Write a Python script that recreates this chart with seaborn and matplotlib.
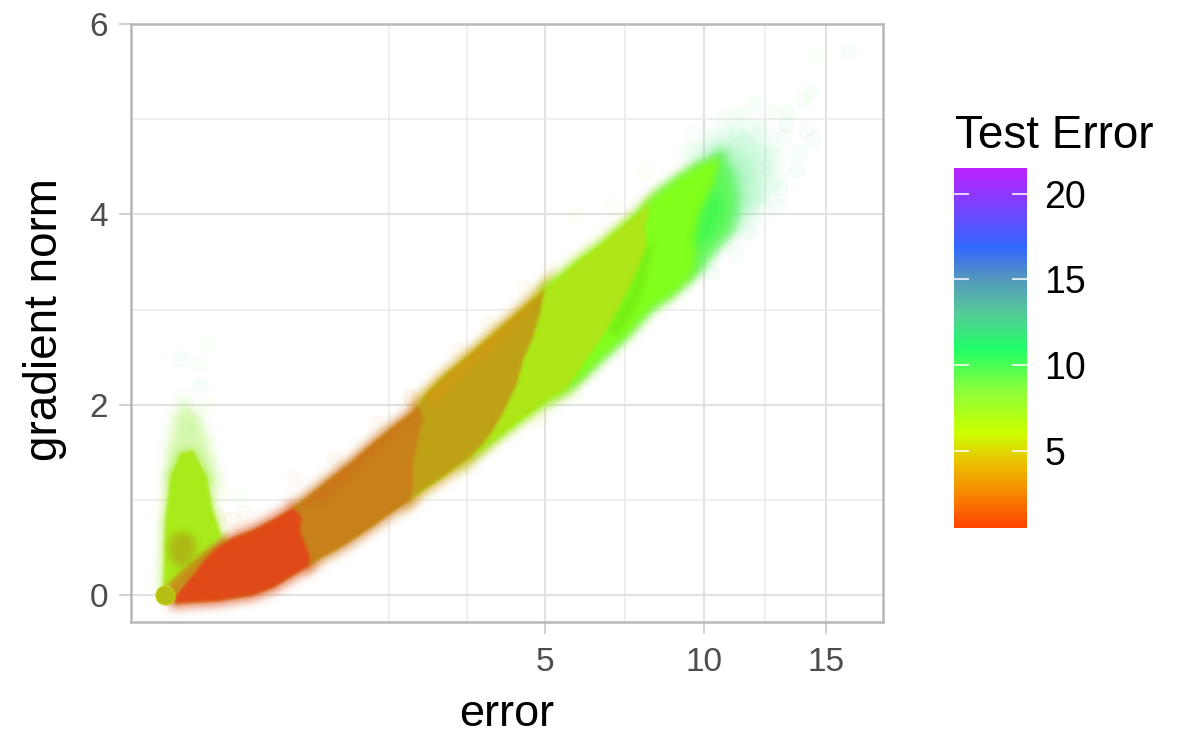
import numpy as np
import pandas as pd
import matplotlib
matplotlib.use("Agg")
import matplotlib.pyplot as plt
from matplotlib.colors import LinearSegmentedColormap, Normalize, to_rgb
import seaborn as sns

sns.set_theme(style="white")
plt.rcParams['font.family'] = ['Liberation Sans', 'DejaVu Sans']

# ---------- data ----------
x_major = [5, 10, 15]
x_minor = [1.76, 3.17, 7.30, 12.38]
y_major = [0, 2, 4, 6]
y_minor = [1, 3, 5]
cbar_ticks = [5, 10, 15, 20]

# upper and lower edge of the dense cloud (error, gradient norm)
upper_x = [.0071, .0143, .0337, .0586, .1047, .1738, .2847, .4227, .588, .780, 1.0, 1.247, 1.521,
           1.822, 2.151, 2.36, 2.694, 3.173, 3.669, 4.201, 4.871, 5.399, 5.955, 6.538, 7.148,
           7.785, 8.449, 9.141, 9.859, 10.605]
upper_y = [-.02, .07, .21, .35, .50, .60, .68, .79, .91, 1.07, 1.24, 1.40, 1.59,
           1.76, 1.92, 2.10, 2.29, 2.50, 2.71, 2.92, 3.17, 3.34, 3.52, 3.67, 3.85,
           4.02, 4.22, 4.38, 4.51, 4.59]
lower_x = [.0071, .0157, .1047, .2847, .4227, .588, .822, 1.120, 1.478, 1.775, 2.151, 2.451, 2.694,
           3.236, 3.827, 4.443, 5.132, 5.870, 6.538, 7.367, 8.113, 8.895, 9.859, 10.72, 11.38]
lower_y = [-.09, -.08, -.06, 0, .08, .21, .37, .52, .71, .86, 1.03, 1.15, 1.24,
           1.45, 1.66, 1.86, 2.07, 2.26, 2.49, 2.75, 3.02, 3.18, 3.45, 3.76, 3.97]

# where one test-error group meets the next, bottom to top
red_end_x = [.74, .75, .65, .67, .588]
red_end_y = [.31, .40, .68, .82, .91]
orange_end_x = [2.10, 2.151, 2.151, 2.27, 2.33, 2.237]
orange_end_y = [1.00, 1.13, 1.39, 1.73, 1.87, 1.99]
gold_end_x = [3.236, 3.514, 3.736, 3.965, 4.297, 4.443, 4.693, 4.871, 5.0]
gold_end_y = [1.45, 1.59, 1.73, 1.91, 2.22, 2.47, 2.71, 2.96, 3.23]
lime_end_x = [5.40, 5.59, 6.748, 7.054, 7.367, 7.687, 8.014, 7.95, 8.113]
lime_end_y = [2.13, 2.18, 2.78, 2.96, 3.17, 3.38, 3.65, 3.86, 4.11]
green_end_x = [9.571, 9.749, 10.05, 10.34, 10.605]
green_end_y = [3.39, 3.71, 4.03, 4.34, 4.59]
tail_end_x = [11.0, 11.20, 11.05, 10.605]
tail_end_y = [3.85, 4.15, 4.40, 4.59]

# smaller patches inside the cloud and the thin end of it
strip_low_x = [2.694, 3.236, 3.827, 4.20, 3.60, 3.10]
strip_low_y = [1.24, 1.45, 1.66, 1.74, 1.60, 1.38]
strip_top_x = [2.36, 3.173, 3.669, 4.201, 4.871, 4.60, 3.70, 3.10, 2.50]
strip_top_y = [2.10, 2.50, 2.71, 2.92, 3.17, 3.00, 2.55, 2.32, 1.95]
orange_top_x = [.60, 1.0, 1.521, 2.151, 2.30, 2.0, 1.4, .9]
orange_top_y = [.91, 1.24, 1.59, 1.92, 1.95, 1.80, 1.40, 1.00]
edge_x = [6.748, 7.367, 8.014, 8.30, 7.80, 7.10]
edge_y = [2.78, 3.13, 3.65, 3.73, 3.10, 2.73]
spring_x = [9.60, 10.30, 10.80, 10.50, 9.90]
spring_y = [3.65, 3.75, 4.05, 4.30, 4.05]
thin_x = [11.38, 12.38, 12.80, 12.38, 11.18, 9.859, 9.50]
thin_y = [3.90, 4.14, 4.46, 4.83, 4.93, 4.77, 4.51]
thinner_x = [10.72, 11.60, 12.00, 11.70, 10.80, 10.00]
thinner_y = [3.72, 3.98, 4.35, 4.62, 4.72, 4.55]

# the spike on the left
spike_x = [.0001, .0004, .0025, .012, .034, .070, .090, .124, .043, .0045]
spike_y = [.05, .76, 1.24, 1.49, 1.52, 1.24, .89, .61, .34, .13]
spike_soft_x = [.0025, .006, .016, .034, .064, .087]
spike_soft_y = [1.24, 1.63, 1.94, 1.89, 1.52, 1.20]
blob_x = [.0014, .0037, .014, .032, .043, .032, .014, .0037]
blob_y = [.50, .63, .66, .63, .50, .37, .28, .35]
base_x = [.0014, .001, .012, .059, .146, .146, .016, .007]
base_y = [-.08, .10, .24, .45, .63, .52, .08, -.09]

# the pile of identical points at the origin
origin_error = [.0004]
origin_norm = [0.0]

# single faint points
faint_error = [.070, .013, .048, .053, .016, .073, .019, .022, .009, .038, .022, .064, .012, .043,
               .080, .0045, .006, .097, .124, .210, .606, .237, .109, .169, .226,
               1.024, 1.579, 2.133, 5.813, 6.931, 2.10, 2.969, 4.492, 3.624, 4.871, 5.870, 3.236,
               16.07, 14.65, 14.34, 13.99, 14.43, 14.12, 13.86, 13.77, 12.92, 11.70, 11.22, 10.30,
               13.30, 13.30, 12.71, 11.97, 11.46, 10.83, 9.50, 7.95, 13.01, 12.71, 13.13, 12.18,
               12.47, 11.90, 12.30, 11.26, 11.66, 12.18, 12.71]
faint_norm = [2.62, 2.48, 2.43, 2.20, 2.08, 1.99, 1.99, 1.86, 1.82, 1.80, 1.73, 1.61, 1.63, 1.70,
              1.42, 1.49, 1.24, 1.23, 1.07, 1.05, 1.22, .86, .82, .79, .70,
              1.44, 1.80, 2.07, 3.99, 4.09, 2.08, 2.57, 3.22, 2.85, 1.84, 2.08, 1.34,
              5.72, 5.67, 5.28, 5.20, 4.78, 4.89, 4.65, 4.47, 4.08, 3.81, 3.58, 3.39,
              5.07, 4.94, 5.08, 5.17, 5.05, 5.04, 4.68, 4.44, 4.28, 4.34, 4.81, 4.66,
              4.49, 4.13, 4.19, 4.84, 4.78, 4.91, 4.63]
faint_test = [9, 11, 9, 11, 9, 7, 9, 9, 9, 9, 9, 8, 8, 9,
              8, 8, 8, 8, 7, 9, 3, 2, 4, 2, 2,
              3, 3, 3, 7, 8, 3, 4, 4, 4, 6, 7, 5,
              13, 9, 10, 10, 13, 13, 12, 12, 12, 12, 12, 11,
              10, 11, 10, 10, 10, 9, 9, 8, 12, 12, 12, 11,
              12, 12, 12, 11, 11, 11, 12]

# colour scale of the legend: value, colour
scale_values = [0.5, 2.5, 4.5, 6.0, 8.5, 10.9, 13.0, 15.0, 16.95, 21.5]
scale_colors = ['#FF4500', '#F88800', '#E8C800', '#CCFF00', '#8CFF3C', '#22FF66',
                '#55CC99', '#5599BB', '#3366FF', '#BB22FF']

# ---------- styles ----------
GRID = '#E2E2E2'
GRID_MINOR = '#EBEBEB'
SPINE = '#B8B8B8'
TICK = '#4D4D4D'


def sroot(v):
    v = np.asarray(v, dtype=float)
    return np.sign(v) * np.sqrt(np.abs(v))


def sinv(v):
    v = np.asarray(v, dtype=float)
    return np.sign(v) * v ** 2


def box(a, r, axis):
    a = np.moveaxis(a, axis, 0)
    n = 2 * r + 1
    p = np.pad(a, [(r + 1, r), (0, 0)])
    c = np.cumsum(p, axis=0)
    out = (c[n:] - c[:-n]) / n
    return np.moveaxis(out, 0, axis)


class SoftEdge:
    """Agg filter: the shape's coverage is blurred, so its rim fades like a cloud of points."""

    def __init__(self, rgb, sigma, alpha=1.0):
        self.rgb, self.r, self.alpha = rgb, max(1, int(round(sigma * .85))), alpha

    def __call__(self, im, dpi):
        pad = 3 * self.r + 2
        a = np.pad(im[:, :, 3], pad)
        for _ in range(3):
            a = box(box(a, self.r, 0), self.r, 1)
        out = np.zeros(a.shape + (4,))
        out[..., :3] = self.rgb
        out[..., 3] = np.clip(a * self.alpha, 0, 1)
        return out, -pad, -pad


cmap = LinearSegmentedColormap.from_list(
    'test_error',
    [((v - scale_values[0]) / (scale_values[-1] - scale_values[0]), c)
     for v, c in zip(scale_values, scale_colors)], N=512)
norm = Normalize(scale_values[0], scale_values[-1])

fig = plt.figure(figsize=(12, 7.5), dpi=100)
ax = fig.add_axes([131 / 1200, 1 - 622 / 750, (883 - 131) / 1200, (622 - 24) / 750])
ax.set_xscale('function', functions=(sroot, sinv))
ax.set_xlim(-0.0316, 17.70)
ax.set_ylim(-0.283, 6.0)

ax.set_xticks(x_major)
ax.set_xticks(x_minor, minor=True)
ax.set_yticks(y_major)
ax.set_yticks(y_minor, minor=True)
ax.grid(True, which='major', color=GRID, lw=1.5, zorder=0)
ax.grid(True, which='minor', color=GRID_MINOR, lw=1.1, zorder=0)
ax.set_axisbelow(True)
ax.tick_params(axis='both', which='major', length=8.5, width=1.1, color='#C4C4C4',
               labelcolor=TICK, labelsize=24, bottom=True, left=True)
ax.tick_params(axis='x', which='major', pad=9.5)
ax.tick_params(axis='y', which='major', pad=8)
ax.tick_params(axis='both', which='minor', length=0)
ax.xaxis.set_minor_formatter(plt.NullFormatter())
ax.yaxis.set_minor_formatter(plt.NullFormatter())
for s in ax.spines.values():
    s.set_color(SPINE)
    s.set_linewidth(1.8)

ux, uy = np.array(upper_x), np.array(upper_y)
lx, ly = np.array(lower_x), np.array(lower_y)


def band(left_x, left_y, right_x, right_y):
    """Outline between two group boundaries, along the cloud's lower and upper edge."""
    lo_min = left_x[0] if left_x else -1
    up_min = left_x[-1] if left_x else -1
    ml = (lx > lo_min) & (lx < right_x[0])
    mu = (ux > up_min) & (ux < right_x[-1])
    xs = list(left_x[:1]) + list(lx[ml]) + list(right_x) + list(ux[mu][::-1]) + list(left_x[-1:])
    ys = list(left_y[:1]) + list(ly[ml]) + list(right_y) + list(uy[mu][::-1]) + list(left_y[-1:])
    return xs, ys


def layer(xs, ys, color, sigma, alpha=1.0, z=3, lw=0.0):
    for p in ax.fill(xs, ys, facecolor=color, edgecolor=color, lw=lw, zorder=z):
        p.set_agg_filter(SoftEdge(to_rgb(color), sigma, alpha))


# true left boundary, left boundary under the neighbour, right boundary,
# colour, fringe colour, stacking, opacity, softness of the edge
groups = [
    ((green_end_x, green_end_y), (lime_end_x, lime_end_y), (tail_end_x, tail_end_y),
     '#5CFA50', '#60F060', 4.0, .78, 6),
    ((lime_end_x, lime_end_y), (gold_end_x, gold_end_y), (green_end_x, green_end_y),
     '#82FF1A', '#8CF040', 4.1, 1, 3.5),
    ((gold_end_x, gold_end_y), (orange_end_x, orange_end_y), (lime_end_x, lime_end_y),
     '#AEE617', '#B8E830', 4.2, 1, 1.6),
    ((orange_end_x, orange_end_y), (red_end_x, red_end_y), (gold_end_x, gold_end_y),
     '#BFA116', '#D8B030', 5.0, 1, 1.6),
    ((red_end_x, red_end_y), ([], []), (orange_end_x, orange_end_y),
     '#C8801A', '#D88A3A', 6.0, 1, 1.6),
    (([], []), ([], []), (red_end_x, red_end_y),
     '#E04A18', '#E2693A', 7.0, 1, 1.6),
]

# soft fringes below everything
for true_left, _, right, _, fringe, _, a, _ in groups:
    xs, ys = band(*true_left, *right)
    layer(xs, ys, fringe, 5, .5 * a, 2, lw=9)
    layer(xs, ys, fringe, 3, .55 * a, 2.1, lw=4)
layer(spike_x, spike_y, '#B0F040', 4, .5, 2, lw=7)
layer(spike_soft_x, spike_soft_y, '#A8F050', 6, .42, 2.2, lw=8)
layer(thin_x, thin_y, '#6CF0A0', 9, .22, 2.3, lw=4)
layer(thinner_x, thinner_y, '#60F080', 8, .35, 2.4, lw=4)

# the spike
layer(spike_x, spike_y, '#A9EA1A', 1.2, 1, 3)
layer(blob_x, blob_y, '#AEB416', 3, .9, 3.2)

# the groups, each lying over the next one to the right
for _, under_left, right, col, _, z, a, soft in groups:
    xs, ys = band(*under_left, *right)
    layer(xs, ys, col, soft, a, z)

layer(spring_x, spring_y, '#3EF850', 5, .85, 4.15)
layer(edge_x, edge_y, '#78F015', 2, 1, 4.3)
layer(strip_low_x, strip_low_y, '#C8C414', 3, .9, 5.1)
layer(strip_top_x, strip_top_y, '#D49A12', 4, .75, 5.2)
layer(orange_top_x, orange_top_y, '#CF6E1C', 3, .6, 6.1)
layer(base_x, base_y, '#C49015', 2.5, 1, 6.5)

# faint single points and the pile at the origin, through seaborn
faint = pd.DataFrame({'error': faint_error, 'norm': faint_norm, 'test': faint_test})
sns.scatterplot(data=faint, x='error', y='norm', hue='test', palette=cmap, hue_norm=norm,
                s=125, alpha=.035, edgecolor='face', linewidth=1.0, legend=False, ax=ax, zorder=8)
origin = pd.DataFrame({'error': origin_error, 'norm': origin_norm})
sns.scatterplot(data=origin, x='error', y='norm', color='#B4BE14', s=190, alpha=1,
                edgecolor='#C8D010', linewidth=.8, legend=False, ax=ax, zorder=9)
ax.set_xlabel('')
ax.set_ylabel('')
fig.text(507 / 1200, 1 - 714 / 750, 'error', fontsize=32.5, ha='center', va='center', color='black')
fig.text(45 / 1200, 1 - 320 / 750, 'gradient norm', fontsize=33, ha='center', va='center',
         rotation=90, color='black')

# legend
cax = fig.add_axes([954 / 1200, 1 - 528 / 750, (1027 - 954) / 1200, (528 - 168) / 750])
grad = np.linspace(scale_values[0], scale_values[-1], 400).reshape(-1, 1)
cax.imshow(grad, origin='lower', aspect='auto', cmap=cmap, norm=norm,
           extent=[0, 1, scale_values[0], scale_values[-1]])
cax.set_xticks([])
cax.yaxis.tick_right()
cax.set_yticks(cbar_ticks)
cax.tick_params(axis='y', length=0, pad=12.5, labelsize=27, labelcolor='black')
for s in cax.spines.values():
    s.set_visible(False)
for t in cbar_ticks:
    cax.plot([0, .2], [t, t], color='white', lw=1.1, solid_capstyle='butt')
    cax.plot([.8, 1], [t, t], color='white', lw=1.1, solid_capstyle='butt')
cax.set_xlim(0, 1)
cax.set_ylim(scale_values[0], scale_values[-1])
fig.text(955 / 1200, 1 - 136 / 750, 'Test Error', fontsize=33, ha='left', va='center', color='black')

fig.savefig('out.png', dpi=100)
